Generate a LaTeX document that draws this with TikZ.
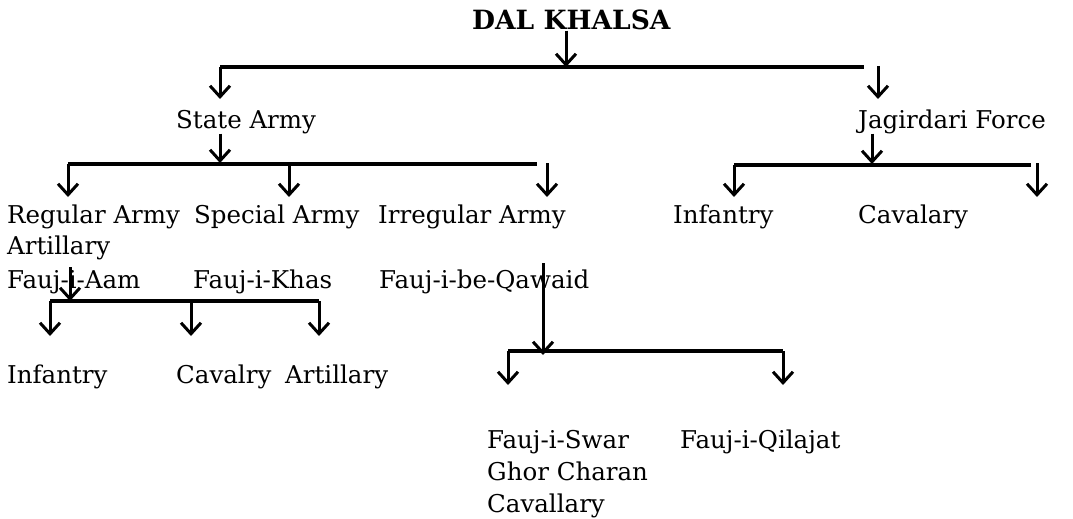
\documentclass[tikz,border=0pt]{standalone}
\usepackage{fontspec}
\setmainfont{DejaVu Serif}
\usetikzlibrary{arrows.meta}

\begin{document}
\begin{tikzpicture}[x=1pt,y=-1pt,
  lbl/.style={anchor=base west,inner sep=0pt,font=\fontsize{24.5}{29}\selectfont},
  arr/.style={-{Straight Barb[length=11pt,width=20pt]},line width=3pt},
  bar/.style={line width=3.4pt}]
\useasboundingbox (0,0) rectangle (1073,519);
% edit here for the labels
\node[lbl,font=\fontsize{26.5}{31}\selectfont\bfseries] (dal) at (472,30) {DAL KHALSA};
\node[lbl] (state) at (176,128) {State Army};
\node[lbl] (jagir) at (858,128) {Jagirdari Force};
\node[lbl] (regular) at (7,223) {Regular Army};
\node[lbl] (special) at (194,223) {Special Army};
\node[lbl] (irregular) at (378,223) {Irregular Army};
\node[lbl] (jinf) at (673,223) {Infantry};
\node[lbl] (jcav) at (858,223) {Cavalary};
\node[lbl] (artil) at (7,254) {Artillary};
\node[lbl] (aam) at (7,288) {Fauj-i-Aam};
\node[lbl] (khas) at (193,288) {Fauj-i-Khas};
\node[lbl] (qawaid) at (379,288) {Fauj-i-be-Qawaid};
\node[lbl] (rinf) at (7,383) {Infantry};
\node[lbl] (rcav) at (176,383) {Cavalry};
\node[lbl] (rart) at (285,383) {Artillary};
\node[lbl] (swar) at (487,448) {Fauj-i-Swar};
\node[lbl] (ghor) at (487,480) {Ghor Charan};
\node[lbl] (cavl) at (487,512) {Cavallary};
\node[lbl] (qila) at (680,448) {Fauj-i-Qilajat};
% edit here for the joints
\coordinate (b1m) at (566,67);
\coordinate (b1l) at (220,67);
\coordinate (b1r) at (864,67);
\coordinate (t1l) at (220,99);
\coordinate (s1r) at (878,66);
\coordinate (t1r) at (878,99);
\coordinate (b2m) at (220,164);
\coordinate (b2l) at (68,164);
\coordinate (b2r) at (537,164);
\coordinate (t2a) at (68,197);
\coordinate (s2b) at (289,162);
\coordinate (t2b) at (289,197);
\coordinate (s2c) at (547,163);
\coordinate (t2c) at (547,197);
\coordinate (b3m) at (872,165);
\coordinate (b3l) at (734,165);
\coordinate (b3r) at (1031,165);
\coordinate (t3l) at (734,197);
\coordinate (s3r) at (1037,163);
\coordinate (t3r) at (1037,197);
\coordinate (s4m) at (70,267);
\coordinate (b4m) at (70,301);
\coordinate (b4l) at (50,301);
\coordinate (b4r) at (319,301);
\coordinate (t4a) at (50,336);
\coordinate (s4b) at (191,300);
\coordinate (t4b) at (191,336);
\coordinate (t4c) at (319,336);
\coordinate (s5m) at (543,263);
\coordinate (b5m) at (543,351);
\coordinate (b5l) at (508,351);
\coordinate (b5r) at (783,351);
\coordinate (t5l) at (508,385);
\coordinate (t5r) at (783,385);
% bars
\draw[bar] (b1l) -- (b1r);
\draw[bar] (b2l) -- (b2r);
\draw[bar] (b3l) -- (b3r);
\draw[bar] (b4l) -- (b4r);
\draw[bar] (b5l) -- (b5r);
% arrows
\draw[arr] (dal.south -| b1m) -- (b1m);
\draw[arr] (b1l) -- (t1l);
\draw[arr] (s1r) -- (t1r);
\draw[arr] (state.south -| b2m) -- ([yshift=1pt]b2m);
\draw[arr] (b2l) -- (t2a);
\draw[arr] (s2b) -- (t2b);
\draw[arr] (s2c) -- (t2c);
\draw[arr] (jagir.south -| b3m) -- ([yshift=1pt]b3m);
\draw[arr] (b3l) -- (t3l);
\draw[arr] (s3r) -- (t3r);
\draw[arr] (s4m) -- (b4m);
\draw[arr] (b4l) -- (t4a);
\draw[arr] (s4b) -- (t4b);
\draw[arr] (b4r) -- (t4c);
\draw[arr] (s5m) -- ([yshift=-4pt]b5m);
\draw[arr] (b5l) -- (t5l);
\draw[arr] (b5r) -- (t5r);
\end{tikzpicture}
\end{document}
